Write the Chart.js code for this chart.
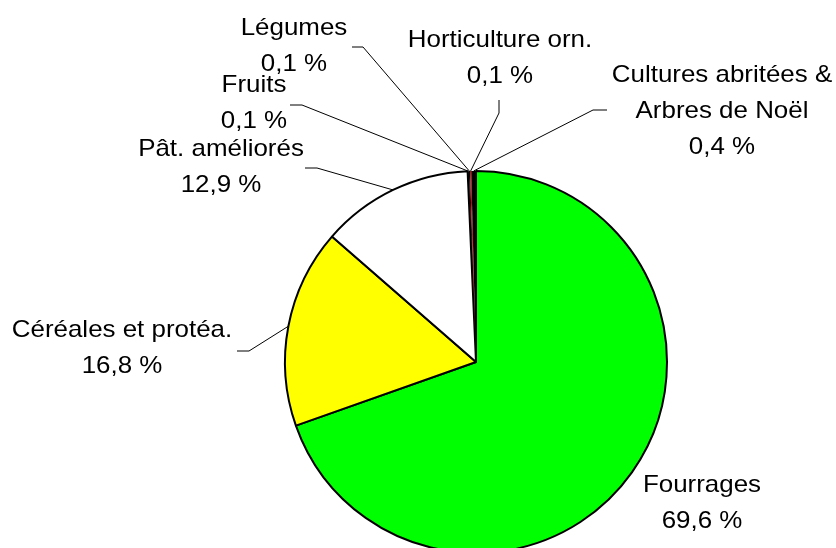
<!DOCTYPE html>
<html><head><meta charset="utf-8">
<script src="https://cdn.jsdelivr.net/npm/chart.js@4/dist/chart.umd.min.js"></script>
<style>html,body{margin:0;padding:0;background:#fff;overflow:hidden;width:836px;height:548px}canvas{display:block}</style>
</head><body>
<canvas id="c" width="836" height="560"></canvas>
<script>
const categories = ['Fourrages', 'Céréales et protéa.', 'Pât. améliorés', 'Fruits', 'Légumes', 'Horticulture orn.', 'Cultures abritées & Arbres de Noël'];
const shares = [69.6, 16.8, 12.9, 0.1, 0.1, 0.1, 0.4];
const sliceColors = ['#00FF00', '#FFFF00', '#FFFFFF', '#000000', '#000000', '#CC0000', '#000000'];
const sliceBorders = [2, 2, 2, 0, 0, 0, 0];
const labelLines = [['Fourrages'], ['Céréales et protéa.'], ['Pât. améliorés'], ['Fruits'], ['Légumes'], ['Horticulture orn.'], ['Cultures abritées &', 'Arbres de Noël']];

// label layout (text centre x, first baseline y, leader elbow points from label towards slice)
const labelLayout = [
  {x: 702, y: 492, leader: null},
  {x: 122, y: 337, leader: [[237, 351], [249, 351]]},
  {x: 221, y: 156, leader: [[305, 168], [317, 168]]},
  {x: 254, y: 92, leader: [[290, 105], [302, 105]]},
  {x: 294, y: 35, leader: [[352, 47], [363, 47]]},
  {x: 500, y: 47, leader: [[499, 100], [499, 113]]},
  {x: 722, y: 82, leader: [[607, 110], [593, 110]]}
];
const LINE_H = 36;
const FONT = '24px "Liberation Sans", Arial, sans-serif';
const XSCALE = 1.08;

const fmt = v => v.toFixed(1).replace('.', ',') + ' %';

const labelPlugin = {
  id: 'pieLabels',
  afterDatasetsDraw(chart) {
    const ctx = chart.ctx;
    const arcs = chart.getDatasetMeta(0).data;
    ctx.save();
    // leader lines
    ctx.strokeStyle = '#000';
    ctx.lineWidth = 1;
    arcs.forEach((arc, i) => {
      const L = labelLayout[i];
      if (!L.leader) return;
      const mid = (arc.startAngle + arc.endAngle) / 2;
      const px = arc.x + Math.cos(mid) * arc.outerRadius;
      const py = arc.y + Math.sin(mid) * arc.outerRadius;
      ctx.beginPath();
      ctx.moveTo(L.leader[0][0], L.leader[0][1]);
      for (let k = 1; k < L.leader.length; k++) ctx.lineTo(L.leader[k][0], L.leader[k][1]);
      ctx.lineTo(px, py);
      ctx.stroke();
    });
    // labels
    ctx.fillStyle = '#000';
    ctx.font = FONT;
    ctx.textAlign = 'center';
    ctx.textBaseline = 'alphabetic';
    arcs.forEach((arc, i) => {
      const L = labelLayout[i];
      const lines = labelLines[i].concat([fmt(shares[i])]);
      lines.forEach((t, j) => {
        ctx.save();
        ctx.translate(L.x, L.y + j * LINE_H);
        ctx.scale(XSCALE, 1);
        ctx.fillText(t, 0, 0);
        ctx.restore();
      });
    });
    ctx.restore();
  }
};

new Chart(document.getElementById('c'), {
  type: 'pie',
  data: {
    labels: categories,
    datasets: [{
      data: shares,
      backgroundColor: sliceColors,
      borderColor: '#000000',
      borderWidth: sliceBorders,
      radius: 191
    }]
  },
  options: {
    responsive: false,
    animation: false,
    devicePixelRatio: 1,
    layout: {padding: {left: 285, right: 169, top: 171, bottom: 7}},
    plugins: {legend: {display: false}, tooltip: {enabled: false}}
  },
  plugins: [labelPlugin]
});
</script>
</body></html>
